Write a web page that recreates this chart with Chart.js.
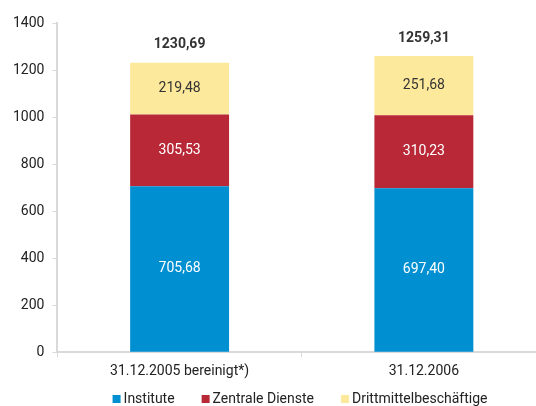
<!DOCTYPE html>
<html>
<head>
<meta charset="utf-8">
<script src="https://cdn.jsdelivr.net/npm/chart.js@4/dist/chart.umd.min.js"></script>
<style>
  html, body { margin: 0; padding: 0; background: #fff; overflow: hidden; }
  #wrap { width: 600px; height: 406px; }
</style>
</head>
<body>
<div id="wrap"><canvas id="chart" width="600" height="406"></canvas></div>
<script>
// Chart data
const categories = ['31.12.2005 bereinigt*)', '31.12.2006'];
const seriesNames = ['Institute', 'Zentrale Dienste', 'Drittmittelbeschäftige'];
const institute = [705.68, 697.40];
const zentraleDienste = [305.53, 310.23];
const drittmittel = [219.48, 251.68];
const yTicks = [0, 200, 400, 600, 800, 1000, 1200, 1400];

const colors = ['#008fd0', '#b82837', '#fde99c'];
const labelColors = ['#ffffff', '#ffffff', '#333333'];
const fontFamily = 'Roboto, "Liberation Sans", Arial, sans-serif';

function fmt(v) {
  return v.toFixed(2).replace('.', ',');
}

// Draws segment values and totals
const valueLabels = {
  id: 'valueLabels',
  afterDatasetsDraw(chart) {
    const ctx = chart.ctx;
    ctx.save();
    ctx.textAlign = 'center';
    ctx.textBaseline = 'middle';
    ctx.font = '14px ' + fontFamily;
    chart.data.datasets.forEach((ds, i) => {
      const meta = chart.getDatasetMeta(i);
      meta.data.forEach((bar, j) => {
        ctx.fillStyle = labelColors[i];
        ctx.fillText(fmt(ds.data[j]), bar.x, (bar.y + bar.base) / 2);
      });
    });
    const top = chart.getDatasetMeta(chart.data.datasets.length - 1);
    ctx.font = 'bold 14px ' + fontFamily;
    ctx.fillStyle = '#333333';
    top.data.forEach((bar, j) => {
      const total = chart.data.datasets.reduce((s, ds) => s + ds.data[j], 0);
      ctx.fillText(fmt(total), bar.x, bar.y - 18);
    });
    ctx.restore();
  }
};

// Simple bottom legend with small squares
const bottomLegend = {
  id: 'bottomLegend',
  afterDraw(chart) {
    const ctx = chart.ctx;
    ctx.save();
    ctx.font = '14px ' + fontFamily;
    ctx.textBaseline = 'middle';
    const box = 8, gapText = 3, gapItem = 27;
    const widths = chart.data.datasets.map(ds => ctx.measureText(ds.label).width);
    const total = widths.reduce((s, w) => s + box + gapText + w, 0) + gapItem * (widths.length - 1);
    let x = 300 - total / 2;
    const y = 399;
    chart.data.datasets.forEach((ds, i) => {
      ctx.fillStyle = ds.backgroundColor;
      ctx.fillRect(x, y - 4, box, box);
      ctx.fillStyle = '#222222';
      ctx.fillText(ds.label, x + box + gapText, y);
      x += box + gapText + widths[i] + gapItem;
    });
    ctx.restore();
  }
};

new Chart(document.getElementById('chart'), {
  type: 'bar',
  data: {
    labels: categories,
    datasets: [
      { label: seriesNames[0], data: institute, backgroundColor: colors[0] },
      { label: seriesNames[1], data: zentraleDienste, backgroundColor: colors[1] },
      { label: seriesNames[2], data: drittmittel, backgroundColor: colors[2] }
    ]
  },
  options: {
    responsive: false,
    animation: false,
    layout: { padding: { top: 23, right: 54, left: 5, bottom: 20 } },
    datasets: {
      bar: { barPercentage: 0.405, categoryPercentage: 1 }
    },
    plugins: {
      tooltip: { enabled: false },
      legend: { display: false }
    },
    scales: {
      x: {
        stacked: true,
        grid: {
          offset: true,
          drawOnChartArea: false,
          tickLength: 5,
          color: '#d9d9d9',
          lineWidth: 1
        },
        border: { color: '#d9d9d9', width: 2 },
        ticks: {
          color: '#222222',
          padding: 6,
          font: { family: fontFamily, size: 14 }
        }
      },
      y: {
        stacked: true,
        min: 0,
        max: 1400,
        afterBuildTicks(axis) {
          axis.ticks = yTicks.map(v => ({ value: v }));
        },
        grid: {
          drawOnChartArea: false,
          tickLength: 5,
          color: '#d9d9d9'
        },
        border: { color: '#d9d9d9', width: 2 },
        ticks: {
          color: '#222222',
          padding: 8,
          callback: v => String(v),
          font: { family: fontFamily, size: 14 }
        }
      }
    }
  },
  plugins: [valueLabels, bottomLegend]
});
</script>
</body>
</html>
